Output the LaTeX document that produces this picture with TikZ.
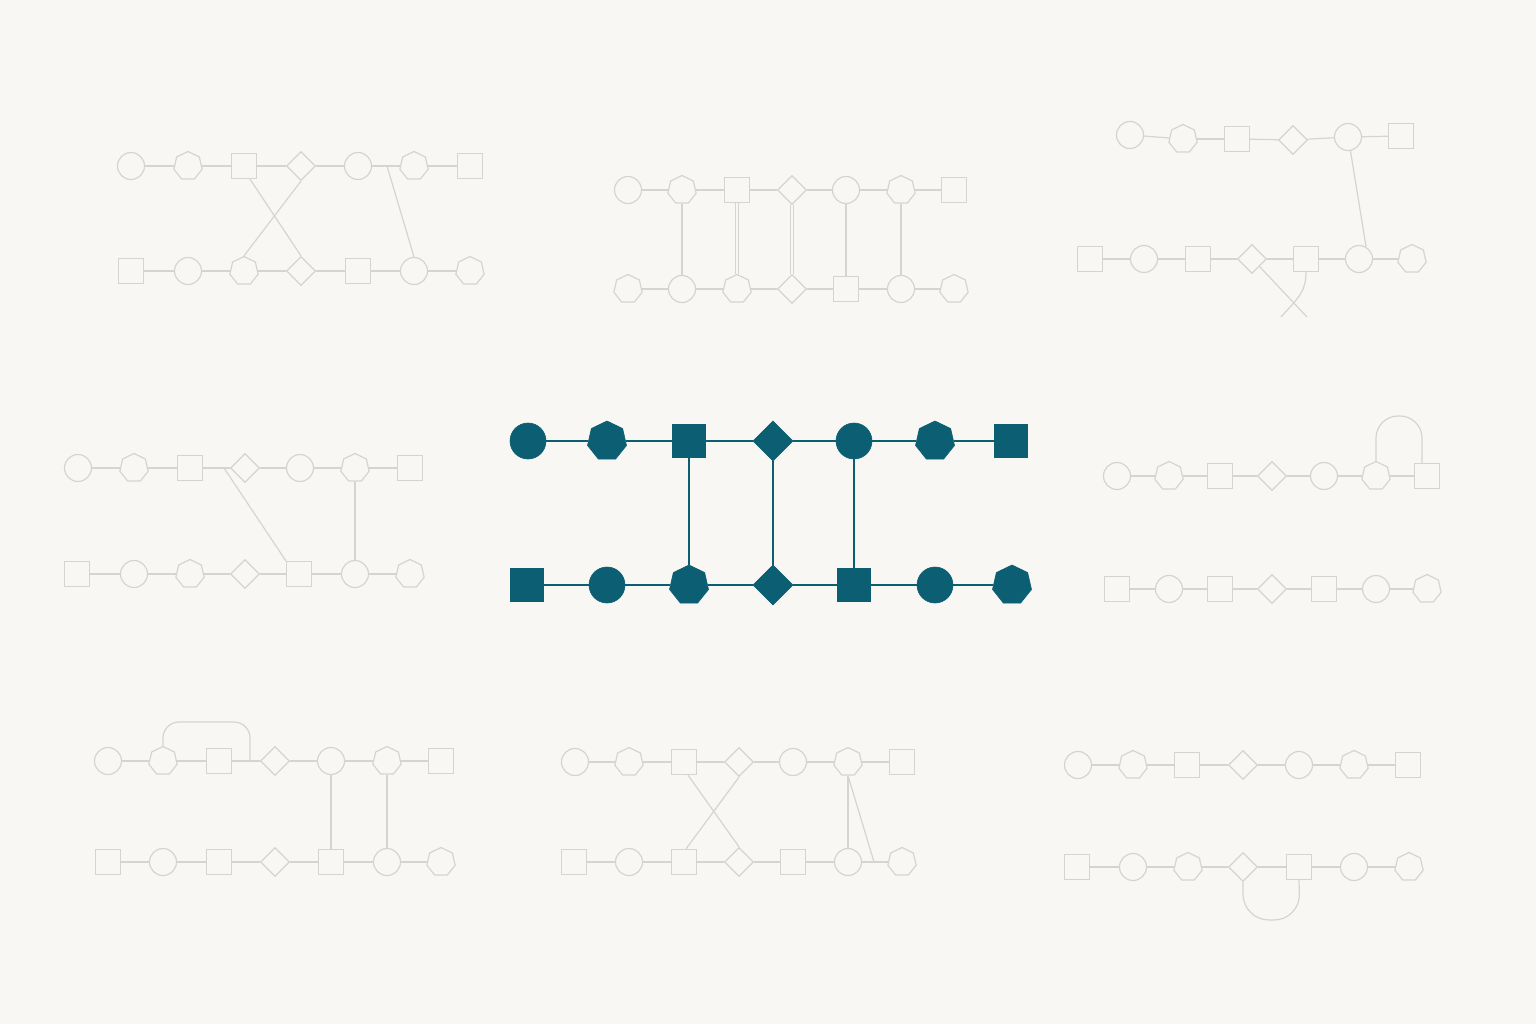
\documentclass[tikz,border=0pt]{standalone}
\usetikzlibrary{shapes.geometric}
\definecolor{bg}{RGB}{248,247,244}
\definecolor{gline}{RGB}{212,212,210}
\definecolor{teal5}{RGB}{12,94,114}
\newcommand\mkchain[3]{\foreach \i [evaluate=\i as \j using int(\i+1)] in {1,...,#2} {\draw[#3] (#1\i) -- (#1\j);}}
\tikzset{
  gbase/.style={draw=gline, line width=1.2pt, fill=bg, inner sep=0pt},
  Gc/.style={gbase, circle, minimum size=27pt},
  Gs/.style={gbase, rectangle, minimum size=25pt},
  Gd/.style={gbase, diamond, minimum width=29pt, minimum height=29pt},
  Gh/.style={gbase, regular polygon, regular polygon sides=7, minimum size=29pt},
  tbase/.style={draw=teal5, fill=teal5, line width=0.6pt, inner sep=0pt},
  Tc/.style={tbase, circle, minimum size=36pt},
  Ts/.style={tbase, rectangle, minimum size=33pt},
  Td/.style={tbase, diamond, minimum width=40pt, minimum height=40pt},
  Th/.style={tbase, regular polygon, regular polygon sides=7, minimum size=40pt},
  gl/.style={draw=gline, line width=1.2pt},
  gdbl/.style={draw=gline, line width=1pt, double=bg, double distance=2.6pt},
  tl/.style={draw=teal5, line width=2.6pt},
}
\begin{document}
\begin{tikzpicture}[x=1pt,y=-1pt]
\fill[bg] (0,0) rectangle (1536,1024);
\useasboundingbox (0,0) rectangle (1536,1024);
% ---------- Panel 1
\foreach \s/\x [count=\i] in {Gc/131,Gh/188,Gs/244,Gd/301,Gc/358,Gh/414,Gs/470} \node[\s] (p1t\i) at (\x,166) {};
\foreach \s/\x [count=\i] in {Gs/131,Gc/188,Gh/244,Gd/301,Gs/358,Gc/414,Gh/470} \node[\s] (p1b\i) at (\x,271) {};
\mkchain{p1t}{6}{gl}
\mkchain{p1b}{6}{gl}
\draw[gl] ([xshift=6pt]p1t3.south) -- (p1b4.north);
\draw[gl] (p1t4.south) -- (p1b3.north);
\coordinate (p1j) at (387,166);
\draw[gl] (p1j) -- (p1b6.north);
% ---------- Panel 2
\foreach \s/\x [count=\i] in {Gc/628,Gh/682,Gs/737,Gd/792,Gc/846,Gh/901,Gs/954} \node[\s] (p2t\i) at (\x,190) {};
\foreach \s/\x [count=\i] in {Gh/628,Gc/682,Gh/737,Gd/792,Gs/846,Gc/901,Gh/954} \node[\s] (p2b\i) at (\x,289) {};
\mkchain{p2t}{6}{gl}
\mkchain{p2b}{6}{gl}
\draw[gl] (p2t2) -- (p2b2);
\draw[gdbl] (p2t3) -- (p2b3);
\draw[gdbl] (p2t4) -- (p2b4);
\draw[gl] (p2t5) -- (p2b5);
\draw[gl] (p2t6) -- (p2b6);
% ---------- Panel 3
\node[Gc] (p3t1) at (1130,135) {};
\node[Gh] (p3t2) at (1183,139) {};
\node[Gs] (p3t3) at (1237,139) {};
\node[Gd] (p3t4) at (1293,140) {};
\node[Gc] (p3t5) at (1348,137) {};
\node[Gs] (p3t6) at (1401,136) {};
\foreach \s/\x [count=\i] in {Gs/1090,Gc/1144,Gs/1198,Gd/1252,Gs/1306,Gc/1359,Gh/1412} \node[\s] (p3b\i) at (\x,259) {};
\mkchain{p3t}{5}{gl}
\mkchain{p3b}{6}{gl}
\draw[gl] (p3t5.-80) -- (p3b6.60);
\coordinate (p3e1) at (1307,317);
\coordinate (p3e2) at (1281,317);
\draw[gl] (p3b4.south east) -- (p3e1);
\draw[gl] (p3b5.south) .. controls (1306,292) and (1298,298) .. (p3e2);
% ---------- Panel 4
\foreach \s/\x [count=\i] in {Gc/78,Gh/134,Gs/190,Gd/245,Gc/300,Gh/355,Gs/410} \node[\s] (p4t\i) at (\x,468) {};
\foreach \s/\x [count=\i] in {Gs/77,Gc/134,Gh/190,Gd/245,Gs/299,Gc/355,Gh/410} \node[\s] (p4b\i) at (\x,574) {};
\mkchain{p4t}{6}{gl}
\mkchain{p4b}{6}{gl}
\coordinate (p4j) at (224,468);
\draw[gl] (p4j) -- (p4b5.north west);
\draw[gl] (p4t6) -- (p4b6);
% ---------- Panel 5 (teal)
\foreach \s/\x [count=\i] in {Tc/528,Th/607,Ts/689,Td/773,Tc/854,Th/935,Ts/1011} \node[\s] (p5t\i) at (\x,441) {};
\foreach \s/\x [count=\i] in {Ts/527,Tc/607,Th/689,Td/773,Ts/854,Tc/935,Th/1012} \node[\s] (p5b\i) at (\x,585) {};
\mkchain{p5t}{6}{tl}
\mkchain{p5b}{6}{tl}
\draw[tl] (p5t3) -- (p5b3);
\draw[tl] (p5t4) -- (p5b4);
\draw[tl] (p5t5) -- (p5b5);
% ---------- Panel 6
\foreach \s/\x [count=\i] in {Gc/1117,Gh/1169,Gs/1220,Gd/1272,Gc/1324,Gh/1376,Gs/1427} \node[\s] (p6t\i) at (\x,476) {};
\foreach \s/\x [count=\i] in {Gs/1117,Gc/1169,Gs/1220,Gd/1272,Gs/1324,Gc/1376,Gh/1427} \node[\s] (p6b\i) at (\x,589) {};
\mkchain{p6t}{6}{gl}
\mkchain{p6b}{6}{gl}
\draw[gl, rounded corners=22pt] (p6t6.north) -- (1376,416) -- (1422,416) -- ([xshift=-5pt]p6t7.north);
% ---------- Panel 7
\foreach \s/\x [count=\i] in {Gc/108,Gh/163,Gs/219,Gd/275,Gc/331,Gh/387,Gs/441} \node[\s] (p7t\i) at (\x,761) {};
\foreach \s/\x [count=\i] in {Gs/108,Gc/163,Gs/219,Gd/275,Gs/331,Gc/387,Gh/441} \node[\s] (p7b\i) at (\x,862) {};
\mkchain{p7t}{6}{gl}
\mkchain{p7b}{6}{gl}
\coordinate (p7j) at (250,761);
\draw[gl, rounded corners=16pt] (p7t2.north) -- (163,722) -- (250,722) -- (p7j);
\draw[gl] (p7t5) -- (p7b5);
\draw[gl] (p7t6) -- (p7b6);
% ---------- Panel 8
\foreach \s/\x [count=\i] in {Gc/575,Gh/629,Gs/684,Gd/739,Gc/793,Gh/848,Gs/902} \node[\s] (p8t\i) at (\x,762) {};
\foreach \s/\x [count=\i] in {Gs/574,Gc/629,Gs/684,Gd/739,Gs/793,Gc/848,Gh/902} \node[\s] (p8b\i) at (\x,862) {};
\mkchain{p8t}{6}{gl}
\mkchain{p8b}{6}{gl}
\draw[gl] ([xshift=4pt]p8t3.south) -- (p8b4.north);
\draw[gl] (p8t4.south) -- ([xshift=2pt]p8b3.north);
\draw[gl] (p8t6.south) -- (p8b6.north);
\coordinate (p8j) at (874,862);
\draw[gl] (p8t6.south) -- (p8j);
% ---------- Panel 9
\foreach \s/\x [count=\i] in {Gc/1078,Gh/1133,Gs/1187,Gd/1243,Gc/1299,Gh/1354,Gs/1408} \node[\s] (p9t\i) at (\x,765) {};
\foreach \s/\x [count=\i] in {Gs/1077,Gc/1133,Gh/1188,Gd/1243,Gs/1299,Gc/1354,Gh/1409} \node[\s] (p9b\i) at (\x,867) {};
\mkchain{p9t}{6}{gl}
\mkchain{p9b}{6}{gl}
\draw[gl, rounded corners=26pt] (p9b4.south) -- (1243,920) -- (1300,920) -- (p9b5.south);
\end{tikzpicture}
\end{document}
